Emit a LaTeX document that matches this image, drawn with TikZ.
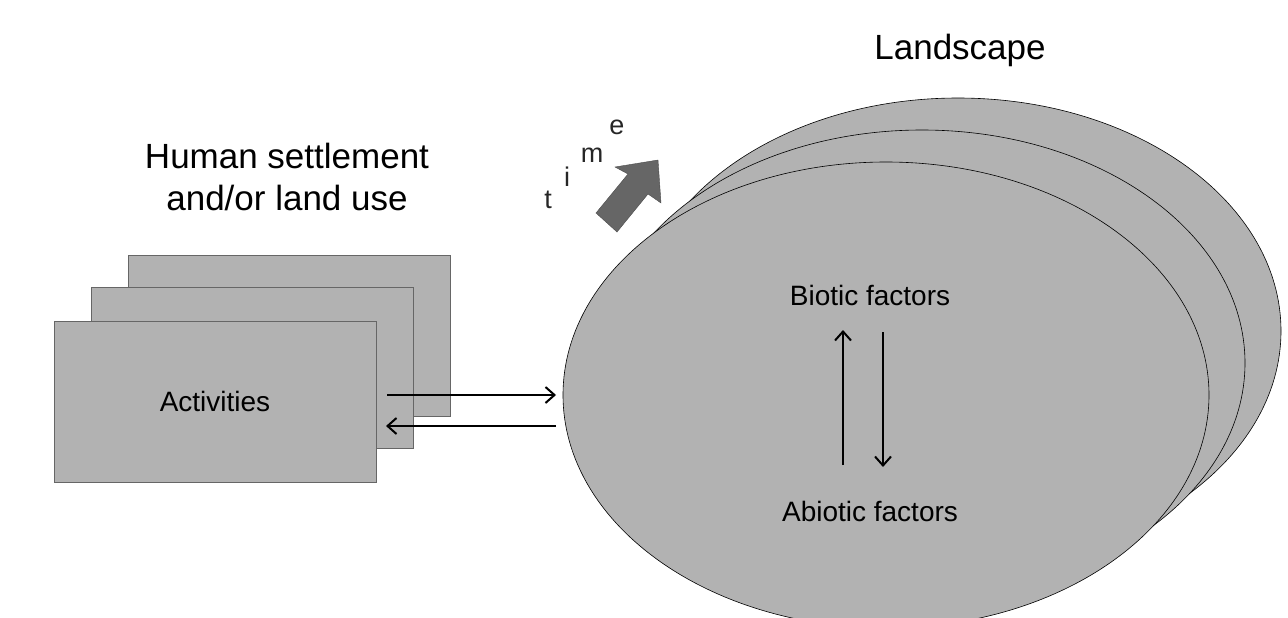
\documentclass[tikz,border=0pt]{standalone}
\usepackage{fontspec}
\setmainfont{Liberation Sans}
\usetikzlibrary{arrows.meta}
\begin{document}
\begin{tikzpicture}[x=1pt,y=-1pt,
  card/.style={draw=black!60,fill=black!30,line width=0.6pt},
  oval/.style={draw=black,fill=black!30,line width=0.6pt},
  lbl/.style={font=\fontsize{28}{30}\selectfont},
  big/.style={font=\fontsize{35}{42}\selectfont,align=center},
  arr/.style={line width=2pt,-{Straight Barb[length=9pt,width=16pt,line width=2pt]}},
  tl/.style={font=\fontsize{27}{27}\selectfont,text=black!85}]
\useasboundingbox (0,0) rectangle (1288,618);
\begin{scope}
\clip (0,0) rectangle (1288,618);
\draw[oval] (958,331) ellipse (323 and 233);
\draw[oval] (922,363) ellipse (323 and 233);
\draw[oval] (886,395) ellipse (323 and 233);
\end{scope}
\draw[card] (128,255) rectangle (450,416);
\draw[card] (91,287) rectangle (413,448);
\draw[card] (54,321) rectangle (376,482) node[midway,lbl] (act) {Activities};
\node[big] (hs) at (287,177) {Human settlement\\and/or land use};
\node[big] (ls) at (960,50) {Landscape};
\node[lbl] (bio) at (870,295) {Biotic factors};
\node[lbl] (abio) at (870,511) {Abiotic factors};
\coordinate (r1) at (387,395); \coordinate (r2) at (556,395);
\coordinate (l1) at (556,426); \coordinate (l2) at (386,426);
\draw[arr] (r1) -- (r2);
\draw[arr] (l1) -- (l2);
\coordinate (u1) at (843,465); \coordinate (u2) at (843,330);
\coordinate (d1) at (883,332); \coordinate (d2) at (883,467);
\draw[arr] (u1) -- (u2);
\draw[arr] (d1) -- (d2);
\fill[black!60,draw=black!70] (596,213) -- (628,174) -- (615,167) -- (658,160) -- (661,203) -- (648,194) -- (617,232) -- cycle;
\node[tl] (t) at (548,200) {t};
\node[tl] (i) at (567,177) {i};
\node[tl] (m) at (592,155) {m};
\node[tl] (e) at (617,127) {e};
\end{tikzpicture}
\end{document}
